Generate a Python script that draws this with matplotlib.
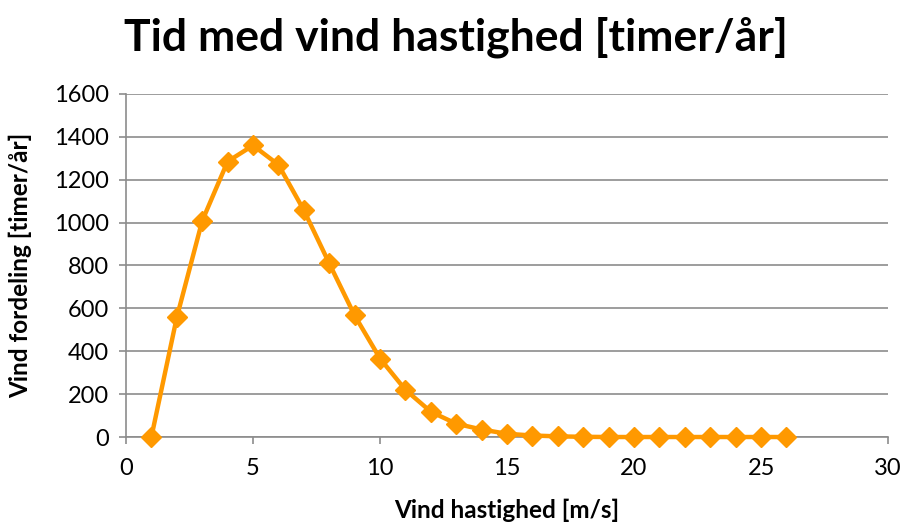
import matplotlib
matplotlib.use("Agg")
import matplotlib.pyplot as plt

# wind speed (m/s) and hours per year
speed = list(range(1, 27))
hours = [0, 558, 1008, 1285, 1360, 1270, 1058, 810, 567, 366, 220, 118, 62, 35,
         15, 7, 3, 1, 0, 0, 0, 0, 0, 0, 0, 0]

x_ticks = [0, 5, 10, 15, 20, 25, 30]
y_ticks = list(range(0, 1601, 200))

plt.rcParams['font.family'] = ['Lato', 'DejaVu Sans']

fig = plt.figure(figsize=(9.09, 5.25), dpi=100)
ax = fig.add_axes([0.1386, 0.1676, 0.8384, 0.6534])

ax.plot(speed, hours, color='#FF9900', linewidth=3.2, marker='D',
        markersize=10, markeredgecolor='#FF9900', zorder=3, clip_on=False)

ax.set_xlim(0, 30)
ax.set_ylim(0, 1600)
ax.set_xticks(x_ticks)
ax.set_yticks(y_ticks)
ax.grid(axis='y', color='#8c8c8c', linewidth=1.2)
ax.set_axisbelow(True)

for side in ['top', 'right']:
    ax.spines[side].set_visible(False)
for side in ['left', 'bottom']:
    ax.spines[side].set_color('#8c8c8c')
    ax.spines[side].set_linewidth(1.2)
ax.tick_params(axis='both', colors='#8c8c8c', labelcolor='black', labelsize=17,
               length=5, width=1.2, direction='out')
ax.tick_params(axis='x', pad=10)
ax.tick_params(axis='y', pad=7)

ax.set_xlabel('Vind hastighed [m/s]', fontsize=17.5, fontweight='bold', labelpad=14)
ax.set_ylabel('Vind fordeling [timer/år]', fontsize=17.5, fontweight='bold', labelpad=16)
fig.text(0.502, 0.93, 'Tid med vind hastighed [timer/år]', ha='center', va='center',
         fontsize=32, fontweight='bold')

fig.savefig('out.png', dpi=100)
